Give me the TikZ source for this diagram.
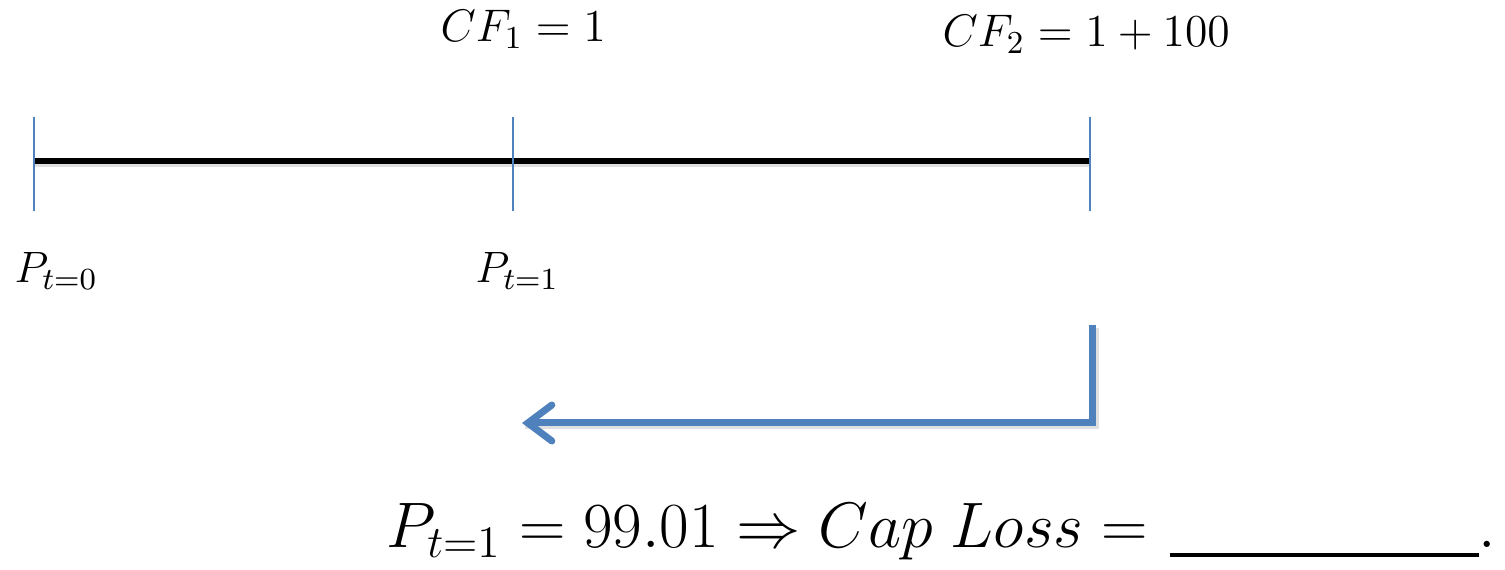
\RequirePackage{fix-cm}
\documentclass[tikz,border=0pt]{standalone}
\usetikzlibrary{arrows.meta}
\definecolor{tickblue}{HTML}{4F81BD}
\tikzset{
  timeline/.style={line width=0.06cm, black, line cap=butt},
  tickline/.style={line width=0.6pt, tickblue},
  flowarrow/.style={line width=0.07cm, tickblue, line join=miter,
    -{Straight Barb[length=0.24cm, width=0.36cm, line cap=round]}},
  shadowline/.style={line width=0.07cm, black, opacity=0.12},
  lbl/.style={inner sep=0pt, font=\fontsize{12.5}{15}\selectfont},
  cflbl/.style={inner sep=0pt, font=\fontsize{13}{16}\selectfont},
  biglbl/.style={inner sep=0pt, font=\fontsize{18.3}{22}\selectfont},
}
\begin{document}
\begin{tikzpicture}
\useasboundingbox (0,0) rectangle (15.05,5.69);
% points on the time line
\coordinate (t0) at (0.34,4.08);
\coordinate (t1) at (5.13,4.08);
\coordinate (t2) at (10.90,4.08);
% shadow
\draw[shadowline] ([yshift=-0.03cm]t0) -- ([yshift=-0.03cm]t2);
\draw[timeline] (t0) -- (t2);
\foreach \p in {t0,t1,t2}{
  \draw[tickline] ([yshift=0.44cm]\p) -- ([yshift=-0.50cm]\p);
}
% labels
\node[lbl, anchor=base west] (p0) at (0.14,2.86) {$P_{t=0}$};
\node[lbl, anchor=base west] (p1) at (4.75,2.86) {$P_{t=1}$};
\node[cflbl, anchor=base west] (cf1) at (4.40,5.27) {$CF_1 = 1$};
\node[cflbl, anchor=base west] (cf2) at (9.42,5.22) {$CF_2 = 1 + 100$};
% arrow
\coordinate (astart) at (10.92,2.44);
\coordinate (acorner) at (10.92,1.46);
\coordinate (aend) at (5.22,1.46);
\draw[shadowline] ([shift={(0.03,-0.03)}]astart) -- ([shift={(0.03,-0.03)}]acorner) -- ([shift={(0.03,-0.03)}]aend);
\draw[flowarrow] (astart) -- (acorner) -- (aend);
% result
\node[biglbl, anchor=base west] (res) at (3.86,0.21)
  {$P_{t=1} = 99.01 \Rightarrow Cap\;Loss = {}$\hspace{0.04cm}\rule[-0.09cm]{3.09cm}{0.04cm}$.$};
\end{tikzpicture}
\end{document}
